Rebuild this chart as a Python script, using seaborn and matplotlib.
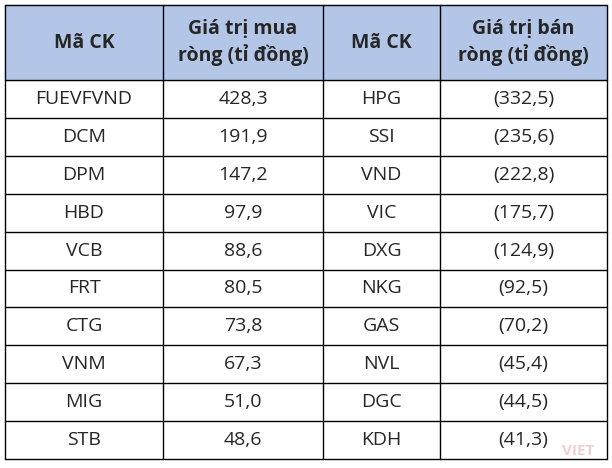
import matplotlib
matplotlib.use("Agg")
import matplotlib.pyplot as plt
import seaborn as sns

sns.set_theme(style="white")
plt.rcParams['font.family'] = ['Open Sans', 'DejaVu Sans']

headers = ["Mã CK", "Giá trị mua\nròng (tỉ đồng)", "Mã CK", "Giá trị bán\nròng (tỉ đồng)"]
buy_codes = ["FUEVFVND", "DCM", "DPM", "HBD", "VCB", "FRT", "CTG", "VNM", "MIG", "STB"]
buy_values = ["428,3", "191,9", "147,2", "97,9", "88,6", "80,5", "73,8", "67,3", "51,0", "48,6"]
sell_codes = ["HPG", "SSI", "VND", "VIC", "DXG", "NKG", "GAS", "NVL", "DGC", "KDH"]
sell_values = ["(332,5)", "(235,6)", "(222,8)", "(175,7)", "(124,9)", "(92,5)", "(70,2)", "(45,4)", "(44,5)", "(41,3)"]

fig = plt.figure(figsize=(6.12, 4.68), dpi=100)
ax = fig.add_axes([0, 0, 1, 1])
ax.set_xlim(0, 612)
ax.set_ylim(468, 0)
ax.axis("off")

xs = [5, 163, 323, 440, 607]
y0, hh, rh = 5, 75, 37.9
nrows = len(buy_codes)
ytop = [y0] + [y0 + hh + i * rh for i in range(nrows + 1)]

ax.add_patch(plt.Rectangle((xs[0], y0), xs[-1] - xs[0], hh, color="#B4C6E7", zorder=0))
for x in xs:
    ax.plot([x, x], [ytop[0], ytop[-1]], color="black", lw=1)
for y in ytop:
    ax.plot([xs[0], xs[-1]], [y, y], color="black", lw=1)

for j, h in enumerate(headers):
    ax.text((xs[j] + xs[j + 1]) / 2, y0 + hh / 2, h, ha="center", va="center",
            fontsize=14, fontweight="bold", linespacing=1.3)

cols = [buy_codes, buy_values, sell_codes, sell_values]
for j, col in enumerate(cols):
    for i, v in enumerate(col):
        ax.text((xs[j] + xs[j + 1]) / 2, ytop[i + 1] + rh / 2, v, ha="center",
                va="center", fontsize=14)

ax.text(578, 451, "VIET", fontsize=11, fontweight="bold", color="#E8B0B0",
        alpha=0.6, ha="center", va="center")

fig.savefig("out.png", dpi=100)
